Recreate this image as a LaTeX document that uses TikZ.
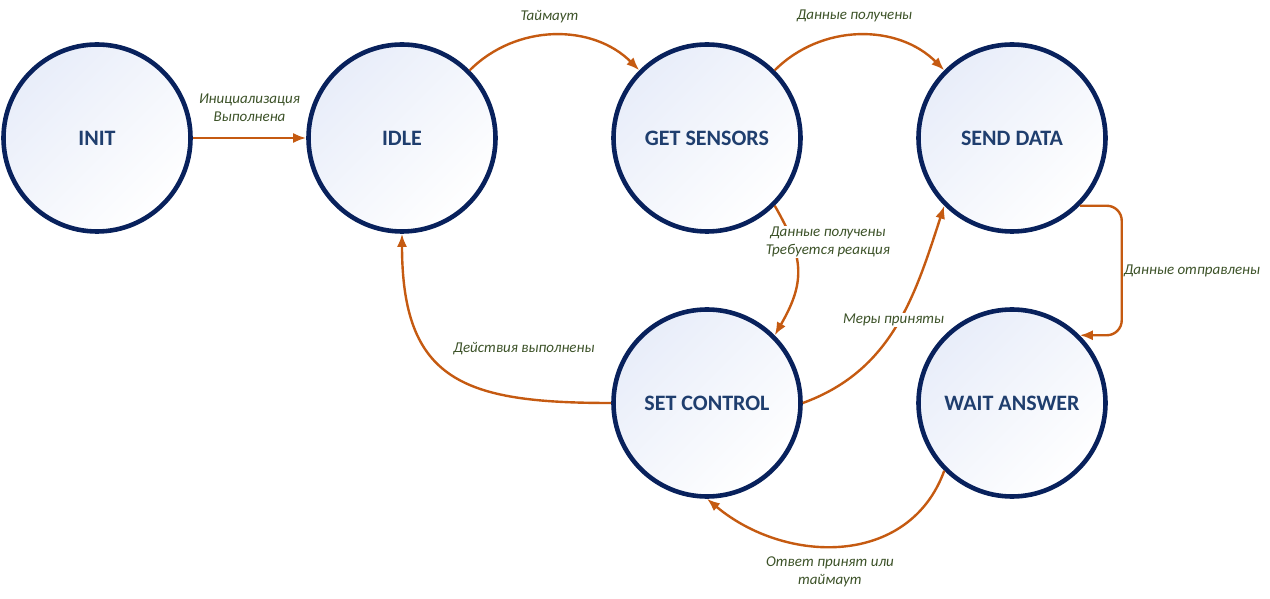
\documentclass[tikz,border=0pt]{standalone}
\usepackage{fontspec}
\setmainfont{Carlito}
\usetikzlibrary{shapes,arrows.meta,positioning}
\definecolor{statenavy}{RGB}{8,33,92}
\definecolor{statetext}{RGB}{31,62,110}
\definecolor{statefill}{RGB}{232,237,249}
\definecolor{transorange}{RGB}{197,90,17}
\definecolor{lblgreen}{RGB}{60,82,40}

\begin{document}
\begin{tikzpicture}[x=1pt, y=1pt,
  statenode/.style={draw=statenavy, line width=4.6pt, circle, minimum size=187pt, inner sep=0pt,
    top color=statefill, bottom color=white, shading angle=45,
    font=\fontsize{22}{26}\selectfont\bfseries, text=statetext},
  trans/.style={-{Latex[length=13pt,width=10pt]}, line width=2.4pt, draw=transorange},
  lbl/.style={font=\fontsize{15}{18}\selectfont\itshape, text=lblgreen, align=center, inner sep=1pt}]
\useasboundingbox (0,0) rectangle (1270,598);

% States
\node[statenode] (init) at (97,460) {INIT};
\node[statenode] (idle) at (402,460) {IDLE};
\node[statenode] (getsens) at (707,460) {GET SENSORS};
\node[statenode] (senddata) at (1012,460) {SEND DATA};
\node[statenode] (setctrl) at (707,195) {SET CONTROL};
\node[statenode] (waitans) at (1012,195) {WAIT ANSWER};

% Top row
\draw[trans] (init) -- node[lbl, above=14pt] {Инициализация\\Выполнена} (idle);
\draw[trans] (idle.45) to[bend left=45] node[lbl, above=10pt, xshift=-5pt] {Таймаут} (getsens.135);
\draw[trans] (getsens.45) to[bend left=45] node[lbl, above=11pt, xshift=-5pt] {Данные получены} (senddata.135);

% Down to the control step and back
\draw[trans] (getsens.-45) to[out=-60, in=60, looseness=1.2] node[lbl, fill=white, pos=.3, xshift=34pt, yshift=5pt] {Данные получены\\Требуется реакция} (setctrl.45);
\draw[trans] (setctrl.east) to[out=20, in=-108] node[lbl, fill=white, pos=.53, xshift=-6pt] {Меры приняты} (senddata.-135);
\draw[trans, rounded corners=15pt] (senddata.-45) -- ++(42,0) |- node[lbl, pos=.25, anchor=west, inner sep=0pt, xshift=1pt] {Данные отправлены} (waitans.45);
\draw[trans] (waitans.-135) to[out=-110, in=-40, looseness=1.1] node[lbl, below=9pt, xshift=-12pt] {Ответ принят или\\таймаут} (setctrl.south);
\draw[trans] (setctrl.west) to[out=180, in=-90, looseness=1.4] node[lbl, pos=.5, anchor=south west, yshift=17pt] {Действия выполнены} (idle.south);
\end{tikzpicture}
\end{document}
